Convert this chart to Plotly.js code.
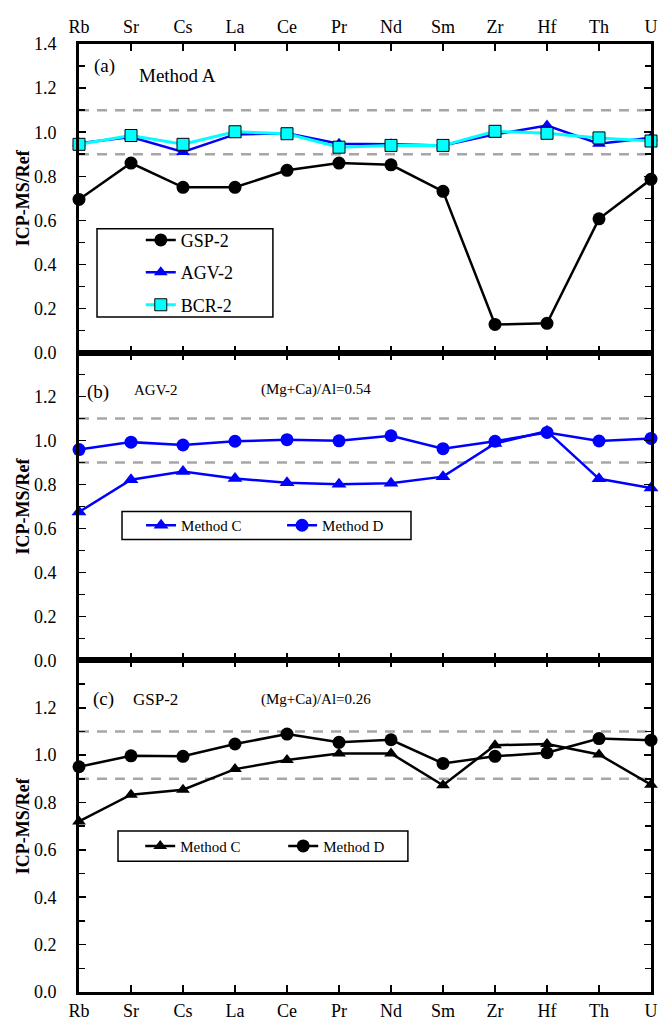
<!DOCTYPE html>
<html>
<head>
<meta charset="utf-8">
<script src="https://cdn.plot.ly/plotly-3.0.1.min.js"></script>
<style>html,body{margin:0;padding:0;background:#fff;}#chart{width:659px;height:1022px;}</style>
</head>
<body>
<div id="chart"></div>
<script>
// ---- data ----
var elements = ['Rb','Sr','Cs','La','Ce','Pr','Nd','Sm','Zr','Hf','Th','U'];
// Panel (a) Method A
var gsp2A = [0.695, 0.86, 0.75, 0.75, 0.827, 0.86, 0.852, 0.732, 0.128, 0.133, 0.607, 0.786];
var agv2A = [0.95, 0.978, 0.91, 0.99, 0.995, 0.948, 0.945, 0.94, 0.99, 1.03, 0.948, 0.975];
var bcr2A = [0.945, 0.985, 0.945, 1.002, 0.993, 0.932, 0.94, 0.94, 1.004, 0.995, 0.974, 0.96];
// Panel (b) AGV-2
var agvMethodC = [0.675, 0.822, 0.859, 0.828, 0.808, 0.801, 0.806, 0.836, 0.987, 1.043, 0.826, 0.784];
var agvMethodD = [0.959, 0.993, 0.98, 0.997, 1.004, 0.999, 1.022, 0.963, 0.997, 1.037, 0.998, 1.01];
// Panel (c) GSP-2
var gspMethodC = [0.72, 0.833, 0.854, 0.941, 0.979, 1.007, 1.007, 0.873, 1.042, 1.047, 1.003, 0.875];
var gspMethodD = [0.951, 0.997, 0.995, 1.047, 1.089, 1.054, 1.065, 0.965, 0.995, 1.01, 1.07, 1.063];
var limits = [0.9, 1.1];

var FONT = 'Liberation Serif, Times New Roman, serif';

var traces = [
  {x: elements, y: gsp2A, name: 'GSP-2', xaxis: 'x', yaxis: 'y', mode: 'lines+markers', legend: 'legend', legendgroup: 'g1',
   line: {color: '#000', width: 2.5}, marker: {symbol: 'circle', size: 13, color: '#000'}, cliponaxis: false},
  {x: elements, y: agv2A, name: 'AGV-2', xaxis: 'x', yaxis: 'y', mode: 'lines+markers', legend: 'legend', legendgroup: 'g2',
   line: {color: '#0000ff', width: 2.5}, marker: {symbol: 'triangle-up', size: 12, color: '#0000ff'}, cliponaxis: false},
  {x: elements, y: bcr2A, name: 'BCR-2', xaxis: 'x', yaxis: 'y', mode: 'lines+markers', legend: 'legend', legendgroup: 'g3',
   line: {color: '#00ffff', width: 3}, marker: {symbol: 'square', size: 12, color: '#00ffff', line: {color: '#000', width: 1}}, cliponaxis: false},
  {x: elements, y: agvMethodC, name: 'Method C', xaxis: 'x2', yaxis: 'y2', mode: 'lines+markers', legend: 'legend2',
   line: {color: '#0000ff', width: 2.5}, marker: {symbol: 'triangle-up', size: 13, color: '#0000ff'}, cliponaxis: false},
  {x: elements, y: agvMethodD, name: 'Method D', xaxis: 'x2', yaxis: 'y2', mode: 'lines+markers', legend: 'legend2',
   line: {color: '#0000ff', width: 2.5}, marker: {symbol: 'circle', size: 13, color: '#0000ff'}, cliponaxis: false},
  {x: elements, y: gspMethodC, name: 'Method C', xaxis: 'x3', yaxis: 'y3', mode: 'lines+markers', legend: 'legend3',
   line: {color: '#000', width: 2.5}, marker: {symbol: 'triangle-up', size: 12, color: '#000'}, cliponaxis: false},
  {x: elements, y: gspMethodD, name: 'Method D', xaxis: 'x3', yaxis: 'y3', mode: 'lines+markers', legend: 'legend3',
   line: {color: '#000', width: 2.5}, marker: {symbol: 'circle', size: 13, color: '#000'}, cliponaxis: false}
];

function xax(anchor, side, showLabels, standoff) {
  return {
    type: 'category', categoryorder: 'array', categoryarray: elements,
    range: [0, elements.length - 1], domain: [0, 1], anchor: anchor, side: side,
    showticklabels: showLabels, ticks: 'inside', ticklen: 7, tickwidth: 1.5, tickcolor: '#000',
    mirror: 'ticks', showline: true, linewidth: 3, linecolor: '#000', showgrid: false, zeroline: false,
    tickfont: {family: FONT, size: 18, color: '#000'}, ticklabelstandoff: standoff, fixedrange: true
  };
}
function yax(domain, anchor, tv) {
  return {
    domain: domain, anchor: anchor, range: [0, 1.4], tickvals: tv,
    ticktext: tv.map(function (v) { return v.toFixed(1); }),
    ticks: 'inside', ticklen: 7, tickwidth: 1.5, tickcolor: '#000',
    minor: {dtick: 0.1, tick0: 0, ticks: 'inside', ticklen: 6, tickwidth: 1.5, tickcolor: '#000', showgrid: false},
    mirror: 'ticks', showline: true, linewidth: 3, linecolor: '#000', showgrid: false, zeroline: false,
    tickfont: {family: FONT, size: 18, color: '#000'}, ticklabelstandoff: 16,
    title: {text: 'ICP-MS/Ref', font: {family: FONT, size: 18, color: '#000', weight: 'bold'}, standoff: 0},
    fixedrange: true
  };
}
var tvA = [0, 0.2, 0.4, 0.6, 0.8, 1.0, 1.2, 1.4];
var tvB = [0, 0.2, 0.4, 0.6, 0.8, 1.0, 1.2];

var shapes = [];
['y', 'y2', 'y3'].forEach(function (ya) {
  limits.forEach(function (v) {
    shapes.push({type: 'line', xref: 'paper', x0: 0, x1: 1, yref: ya, y0: v, y1: v,
      line: {color: '#a6a6a6', width: 2.5, dash: '10px,8px'}, layer: 'below'});
  });
});
// legend frames
shapes.push({type: 'rect', xref: 'paper', yref: 'paper', x0: 0.0315, x1: 0.339, y0: 0.712, y1: 0.805, line: {color: '#000', width: 1.5}, fillcolor: 'rgba(0,0,0,0)', layer: 'above'});
shapes.push({type: 'rect', xref: 'paper', yref: 'paper', x0: 0.0752, x1: 0.5804, y0: 0.4773, y1: 0.5068, line: {color: '#000', width: 1.5}, fillcolor: 'rgba(0,0,0,0)', layer: 'above'});
shapes.push({type: 'rect', xref: 'paper', yref: 'paper', x0: 0.0682, x1: 0.575, y0: 0.138, y1: 0.1697, line: {color: '#000', width: 1.5}, fillcolor: 'rgba(0,0,0,0)', layer: 'above'});

function ann(text, x, y, size, anchor) {
  return {text: text, xref: 'paper', yref: 'paper', x: x, y: y, xanchor: anchor, yanchor: 'middle',
    showarrow: false, font: {family: FONT, size: size, color: '#000'}};
}

var layout = {
  width: 659, height: 1022,
  margin: {l: 79, r: 8, t: 44, b: 30},
  paper_bgcolor: '#fff', plot_bgcolor: '#fff',
  font: {family: FONT, color: '#000'},
  xaxis: xax('y', 'top', true, 1),
  xaxis2: Object.assign(xax('y2', 'bottom', false, 1), {matches: 'x'}),
  xaxis3: Object.assign(xax('y3', 'bottom', true, 0), {matches: 'x'}),
  yaxis: yax([0.6744, 1], 'x', tvA),
  yaxis2: yax([0.3498, 0.6744], 'x2', tvB),
  yaxis3: yax([0, 0.3498], 'x3', tvB),
  shapes: shapes,
  legend: {x: 0.108, y: 0.7587, xanchor: 'left', yanchor: 'middle', orientation: 'v', tracegroupgap: 6,
    bgcolor: 'rgba(0,0,0,0)', borderwidth: 0, font: {family: FONT, size: 18, color: '#000'}},
  legend2: {x: 0.1085, y: 0.4921, xanchor: 'left', yanchor: 'middle', orientation: 'h',
    entrywidth: 96, entrywidthmode: 'pixels',
    bgcolor: 'rgba(0,0,0,0)', borderwidth: 0, font: {family: FONT, size: 15, color: '#000'}},
  legend3: {x: 0.107, y: 0.1538, xanchor: 'left', yanchor: 'middle', orientation: 'h',
    entrywidth: 98, entrywidthmode: 'pixels',
    bgcolor: 'rgba(0,0,0,0)', borderwidth: 0, font: {family: FONT, size: 15, color: '#000'}},
  annotations: [
    ann('(a)', 0.045, 0.9768, 19, 'center'),
    ann('Method A', 0.1014, 0.9663, 19, 'left'),
    ann('(b)', 0.0332, 0.6333, 19, 'center'),
    ann('AGV-2', 0.0927, 0.6354, 15, 'left'),
    ann('(Mg+Ca)/Al=0.54', 0.3147, 0.6354, 15, 'left'),
    ann('(c)', 0.042, 0.3087, 19, 'center'),
    ann('GSP-2', 0.0909, 0.3087, 17, 'left'),
    ann('(Mg+Ca)/Al=0.26', 0.3147, 0.3087, 15, 'left')
  ]
};

Plotly.newPlot('chart', traces, layout, {displayModeBar: false, staticPlot: true});
</script>
</body>
</html>
